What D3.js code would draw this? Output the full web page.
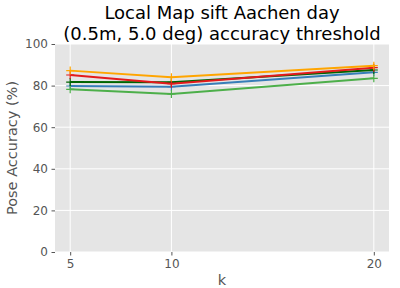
<!DOCTYPE html>
<html>
<head>
<meta charset="utf-8">
<script src="https://cdn.jsdelivr.net/npm/d3@7"></script>
<style>
  body { margin: 0; background: #fff; }
  text { font-family: "DejaVu Sans", sans-serif; }
</style>
</head>
<body>
<svg id="chart" width="400" height="288"></svg>
<script>
const kValues = [5, 10, 20]
const yTicks = [0, 20, 40, 60, 80, 100]

const seriesColors = ['#377eb8', '#4daf4a', '#006400', '#e41a1c', '#ffa500']
const blueVals = [79.8, 79.5, 86.4]
const greenVals = [78.2, 76.0, 83.5]
const darkGreenVals = [81.7, 81.6, 87.5]
const redVals = [85.1, 80.9, 88.6]
const orangeVals = [87.2, 84.0, 89.6]
const allVals = [blueVals, greenVals, darkGreenVals, redVals, orangeVals]

const svg = d3.select('#chart')
const margin = { left: 55, right: 11, top: 44, bottom: 36 }
const width = 400 - margin.left - margin.right
const height = 288 - margin.top - margin.bottom

const g = svg.append('g').attr('transform', 'translate(' + margin.left + ',' + margin.top + ')')

g.append('rect').attr('width', width).attr('height', height).attr('fill', '#e5e5e5')

const x = d3.scaleLinear().domain([4.25, 20.75]).range([0, width])
const y = d3.scaleLinear().domain([0, 100]).range([height, 0])

// grid
g.selectAll('.hgrid').data(yTicks).enter().append('line')
  .attr('x1', 0).attr('x2', width)
  .attr('y1', d => y(d)).attr('y2', d => y(d))
  .attr('stroke', '#fff').attr('stroke-width', 1)
g.selectAll('.vgrid').data(kValues).enter().append('line')
  .attr('y1', 0).attr('y2', height)
  .attr('x1', d => x(d)).attr('x2', d => x(d))
  .attr('stroke', '#fff').attr('stroke-width', 1)

const xAxis = d3.axisBottom(x).tickValues(kValues).tickSize(3.5).tickPadding(3.5)
const gx = g.append('g').attr('transform', 'translate(0,' + height + ')').call(xAxis)
const yAxis = d3.axisLeft(y).tickValues(yTicks).tickSize(3.5).tickPadding(3.5)
const gy = g.append('g').call(yAxis)
;[gx, gy].forEach(a => {
  a.select('.domain').remove()
  a.selectAll('line').attr('stroke', '#555')
  a.selectAll('text').attr('fill', '#555').style('font-size', '12px')
})

const line = d3.line().x((d, i) => x(kValues[i])).y(d => y(d))

allVals.forEach((vals, si) => {
  g.append('path').datum(vals)
    .attr('d', line)
    .attr('fill', 'none')
    .attr('stroke', seriesColors[si])
    .attr('stroke-width', 2)
  g.selectAll('.m' + si).data(vals).enter().append('path')
    .attr('d', (d, i) => {
      const cx = x(kValues[i]), cy = y(d), r = 4
      return 'M' + (cx - r) + ',' + cy + 'H' + (cx + r) + 'M' + cx + ',' + (cy - r) + 'V' + (cy + r)
    })
    .attr('stroke', seriesColors[si])
    .attr('stroke-width', 1.2)
})

svg.append('text').attr('x', margin.left + width / 2).attr('y', 19)
  .attr('text-anchor', 'middle').attr('fill', '#000').style('font-size', '18px')
  .text('Local Map sift Aachen day')
svg.append('text').attr('x', margin.left + width / 2).attr('y', 40)
  .attr('text-anchor', 'middle').attr('fill', '#000').style('font-size', '18px')
  .text('(0.5m, 5.0 deg) accuracy threshold')

svg.append('text').attr('x', margin.left + width / 2).attr('y', 285)
  .attr('text-anchor', 'middle').attr('fill', '#555').style('font-size', '14.5px')
  .text('k')
svg.append('text')
  .attr('transform', 'translate(17,' + (margin.top + height / 2) + ') rotate(-90)')
  .attr('text-anchor', 'middle').attr('fill', '#555').style('font-size', '14.5px')
  .text('Pose Accuracy (%)')
</script>
</body>
</html>
